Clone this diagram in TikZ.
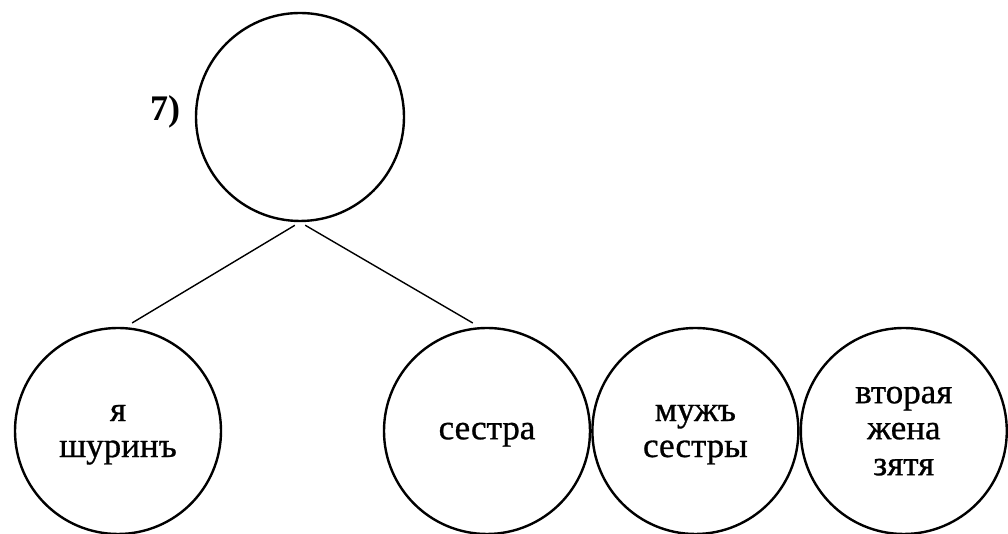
\documentclass[tikz,border=0pt]{standalone}
\usepackage{fontspec}
\setmainfont{Liberation Serif}[FakeBold=0.8]
\newfontfamily\numfont{Liberation Serif}
\usetikzlibrary{positioning}

\begin{document}
\begin{tikzpicture}[x=1pt, y=1pt,
  person/.style={circle, draw, line width=1.2pt, minimum size=103pt, inner sep=0pt,
    align=center, text depth=0pt, font=\fontsize{17.5}{18}\selectfont},
  link/.style={line width=0.7pt, shorten <=3pt, shorten >=4pt}]
  \useasboundingbox (0,0) rectangle (504,267);

  % Nodes
  \node [person, minimum size=104pt] (root) at (150,208.5) {};
  \node [font=\numfont\fontsize{18}{18}\selectfont\bfseries] (num) at (82.5,211) {7)};
  \node [person] (ya) at (59,51.5) {я\\шуринъ};
  \node [person] (sestra) at (243.5,51.5) {сестра};
  \node [person, right=0pt of sestra] (muzh) {мужъ\\сестры};
  \node [person, right=0pt of muzh] (zhena) {вторая\\жена\\зятя};

  % Edges
  \draw [link] (root.south) -- (ya.86);
  \draw [link] (root.south) -- (sestra.94);
\end{tikzpicture}
\end{document}
